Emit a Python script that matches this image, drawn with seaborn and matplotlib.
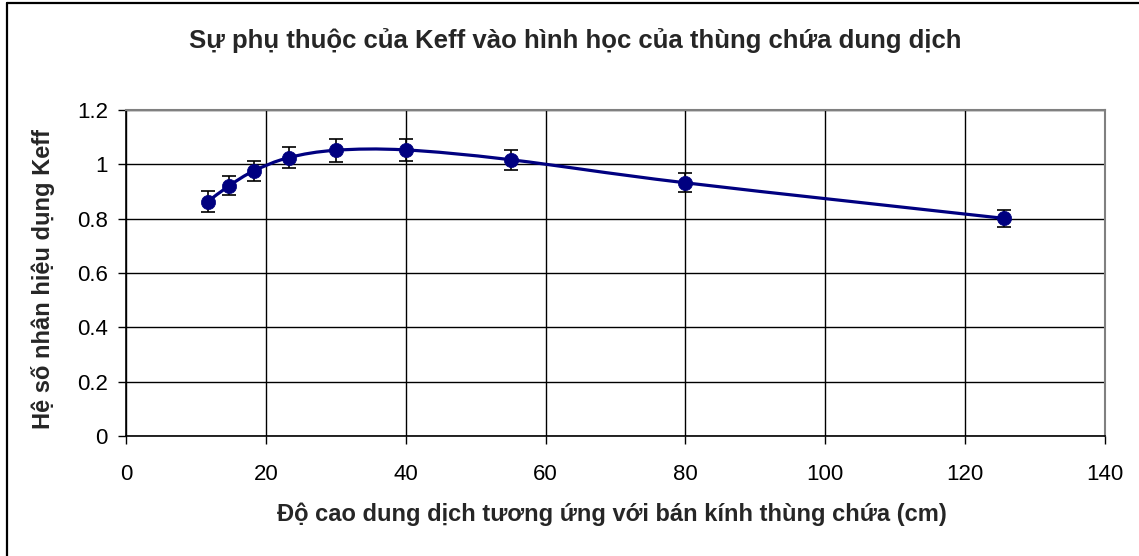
import matplotlib
matplotlib.use("Agg")
import matplotlib.pyplot as plt
from matplotlib.path import Path
from matplotlib.patches import PathPatch
from matplotlib.lines import Line2D
import numpy as np
import pandas as pd
import seaborn as sns

# Measured effective multiplication factor vs. solution height
height_cm = [11.7, 14.8, 18.3, 23.3, 30.1, 40.0, 55.0, 80.0, 125.6]
keff = [0.863, 0.922, 0.976, 1.025, 1.052, 1.053, 1.017, 0.932, 0.801]
keff_err = [0.038, 0.036, 0.037, 0.040, 0.042, 0.042, 0.037, 0.035, 0.032]

x_ticks = [0, 20, 40, 60, 80, 100, 120, 140]
y_ticks = [0, 0.2, 0.4, 0.6, 0.8, 1.0, 1.2]
y_tick_labels = ["0", "0.2", "0.4", "0.6", "0.8", "1", "1.2"]

title = "Sự phụ thuộc của Keff vào hình học của thùng chứa dung dịch"
x_label = "Độ cao dung dịch tương ứng với bán kính thùng chứa (cm)"
y_label = "Hệ số nhân hiệu dụng Keff"

df = pd.DataFrame({"h": height_cm, "k": keff, "err": keff_err})

sns.set_theme(style="white")
plt.rcParams["font.family"] = ["Liberation Sans", "DejaVu Sans"]

W, H = 1139, 556
fig = plt.figure(figsize=(W / 100, H / 100), dpi=100)
ax_left, ax_right, ax_top, ax_bottom = 126, 1105, 110, 436
ax_w, ax_h = ax_right - ax_left, ax_bottom - ax_top
ax = fig.add_axes([ax_left / W, 1 - ax_bottom / H, ax_w / W, ax_h / H])

navy = "#000080"

# Smoothed connecting curve: cubic Bezier segments (Catmull-Rom tangents)
pts = np.column_stack([df["h"], df["k"]])
ext = np.vstack([pts[0], pts, pts[-1]])
verts = [tuple(pts[0])]
codes = [Path.MOVETO]
for i in range(len(pts) - 1):
    p0, p1, p2, p3 = ext[i], ext[i + 1], ext[i + 2], ext[i + 3]
    c1 = p1 + (p2 - p0) / 6.0
    c2 = p2 - (p3 - p1) / 6.0
    verts += [tuple(c1), tuple(c2), tuple(p2)]
    codes += [Path.CURVE4] * 3
ax.add_patch(PathPatch(Path(verts, codes), facecolor="none", edgecolor=navy,
                       lw=2.3, zorder=3, capstyle="round", joinstyle="round"))

# Error bars
ax.errorbar(df["h"], df["k"], yerr=df["err"], fmt="none", ecolor="black",
            elinewidth=1.2, capsize=4.8, capthick=1.2, zorder=4)

# Data markers
sns.scatterplot(data=df, x="h", y="k", ax=ax, color=navy, s=105,
                edgecolor=navy, linewidth=0.5, zorder=5, legend=False)

ax.set_xlim(0, 140)
ax.set_ylim(0, 1.2)
ax.set_xticks(x_ticks)
ax.set_yticks(y_ticks)
ax.set_yticklabels(y_tick_labels)
ax.tick_params(axis="both", labelsize=16, colors="black", length=6,
               width=1.0, direction="out")
ax.tick_params(axis="x", pad=14)
ax.tick_params(axis="y", pad=7)
ax.xaxis.set_ticks_position("bottom")
ax.yaxis.set_ticks_position("left")

ax.grid(True, color="black", linewidth=1.0)
ax.set_axisbelow(True)

for side in ("left", "bottom"):
    ax.spines[side].set_color("black")
    ax.spines[side].set_linewidth(1.2)
for side in ("top", "right"):
    ax.spines[side].set_color("#808080")
    ax.spines[side].set_linewidth(1.5)

ax.set_xlabel(x_label, fontsize=17, fontweight="bold")
ax.set_ylabel(y_label, fontsize=17, fontweight="bold")
ax.xaxis.label.set_va("center")
ax.yaxis.label.set_va("center")
ax.xaxis.set_label_coords((612 - ax_left) / ax_w, (ax_bottom - 514) / ax_h)
ax.yaxis.set_label_coords((43 - ax_left) / ax_w, (ax_bottom - 279) / ax_h)
fig.text(575 / W, 1 - 41 / H, title, ha="center", va="center",
         fontsize=18.5, fontweight="bold")

# Chart frame (left and top edges)
fig.add_artist(Line2D([6.5 / W, 6.5 / W], [0, 1 - 3 / H], color="black",
                      lw=1.6, transform=fig.transFigure))
fig.add_artist(Line2D([6.5 / W, 1], [1 - 3 / H, 1 - 3 / H], color="black",
                      lw=1.6, transform=fig.transFigure))

fig.savefig("out.png", dpi=100, facecolor="white")
